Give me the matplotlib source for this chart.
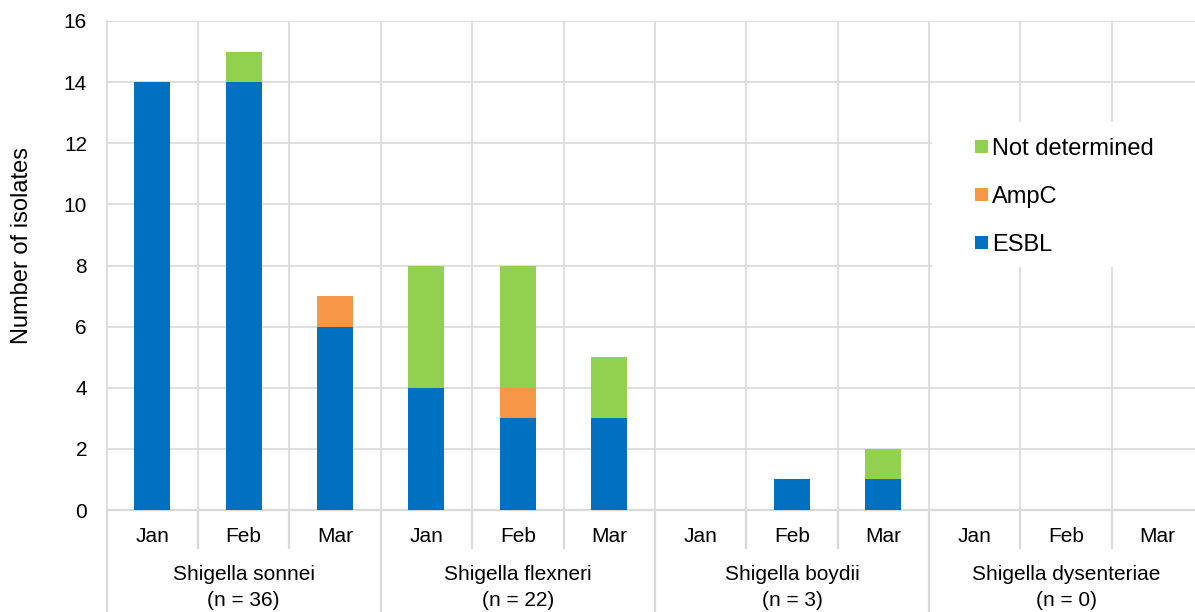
import matplotlib
matplotlib.use("Agg")
import matplotlib.pyplot as plt
import matplotlib.transforms as mtransforms
from matplotlib.patches import Rectangle
import numpy as np

plt.rcParams['font.family'] = ['Liberation Sans', 'DejaVu Sans']

# Data
species = ["Shigella sonnei", "Shigella flexneri", "Shigella boydii", "Shigella dysenteriae"]
species_n = [36, 22, 3, 0]
months = ["Jan", "Feb", "Mar"]
esbl = [14, 14, 6, 4, 3, 3, 0, 1, 1, 0, 0, 0]
ampc = [0, 0, 1, 0, 1, 0, 0, 0, 0, 0, 0, 0]
not_determined = [0, 1, 0, 4, 4, 2, 0, 0, 1, 0, 0, 0]
y_ticks = [0, 2, 4, 6, 8, 10, 12, 14, 16]
legend_labels = ["Not determined", "AmpC", "ESBL"]

col_esbl = "#0070C0"
col_ampc = "#F79646"
col_nd = "#92D050"
grid_col = "#D9D9D9"

W, H = 1195, 612
fig = plt.figure(figsize=(W / 100, H / 100), dpi=100)
left_px, right_px, top_px, bottom_px = 106.5, 1203.3, 21, 510
ax = fig.add_axes([left_px / W, 1 - bottom_px / H,
                   (right_px - left_px) / W, (bottom_px - top_px) / H])

n_bars = len(esbl)
x = np.arange(n_bars) + 0.5
bw = 0.395
esbl_a = np.array(esbl)
ampc_a = np.array(ampc)
nd_a = np.array(not_determined)

ax.bar(x, esbl_a, bw, color=col_esbl, zorder=3)
ax.bar(x, ampc_a, bw, bottom=esbl_a, color=col_ampc, zorder=3)
ax.bar(x, nd_a, bw, bottom=esbl_a + ampc_a, color=col_nd, zorder=3)

ax.set_xlim(0, n_bars)
ax.set_ylim(0, 16)
ax.set_yticks(y_ticks)
ax.tick_params(axis='y', length=0, labelsize=15, pad=14, colors='black')
ax.set_xticks([])

# grid: horizontal at ticks, vertical at every month boundary
for yv in y_ticks[1:]:
    ax.axhline(yv, color=grid_col, lw=1.2, zorder=1)
for k in range(1, n_bars):
    ax.axvline(k, color=grid_col, lw=1.2, zorder=1)

for s in ["top", "right"]:
    ax.spines[s].set_visible(False)
ax.spines["left"].set_color(grid_col)
ax.spines["left"].set_linewidth(1.2)
ax.spines["bottom"].set_color(grid_col)
ax.spines["bottom"].set_linewidth(1.6)

# Category axis below the plot
ax_h_px = bottom_px - top_px
def px_to_ax(py):
    return -(py - bottom_px) / ax_h_px

trans = mtransforms.blended_transform_factory(ax.transData, ax.transAxes)
for k in range(0, n_bars + 1):
    if k % 3 == 0:
        y_end = px_to_ax(H + 5)
    else:
        y_end = px_to_ax(548)
    ax.plot([k, k], [0, y_end], transform=trans, color=grid_col, lw=1.6,
            clip_on=False, zorder=1)

for i in range(n_bars):
    ax.text(x[i], px_to_ax(537), months[i % 3], transform=trans,
            ha='center', va='center', fontsize=15)

for g, (name, n) in enumerate(zip(species, species_n)):
    ax.text(3 * g + 1.5, px_to_ax(575), name, transform=trans,
            ha='center', va='center', fontsize=15)
    ax.text(3 * g + 1.5, px_to_ax(600), f"(n = {n})", transform=trans,
            ha='center', va='center', fontsize=15)

fig.text(22 / W, 1 - 245 / H, "Number of isolates", rotation=90,
         ha='center', va='center', fontsize=17)

# Legend: white panel with colour keys, placed in figure pixel space
def fx(px):
    return px / W

def fy(py):
    return 1 - py / H

fig.patches.append(Rectangle((fx(932), fy(267)), fx(W + 10) - fx(932),
                             fy(122) - fy(267), transform=fig.transFigure,
                             facecolor='white', edgecolor='none', zorder=5))
key_colors = [col_nd, col_ampc, col_esbl]
key_centers = [146.5, 194.5, 242.5]
sq = 12.7
for lab, colr, cy in zip(legend_labels, key_colors, key_centers):
    fig.patches.append(Rectangle((fx(975), fy(cy + sq / 2)), sq / W, sq / H,
                                 transform=fig.transFigure, facecolor=colr,
                                 edgecolor='none', zorder=6))
    fig.text(fx(992), fy(cy + 8.4), lab, ha='left', va='baseline',
             fontsize=17, zorder=7)

fig.savefig("out.png", dpi=100)
